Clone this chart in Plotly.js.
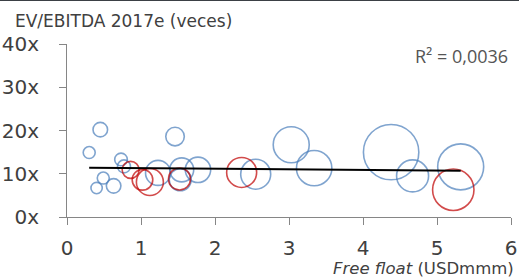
<!DOCTYPE html>
<html>
<head>
<meta charset="utf-8">
<script src="https://cdn.plot.ly/plotly-3.0.1.min.js"></script>
<style>
  html, body { margin: 0; padding: 0; background: #fff; }
  #chart { width: 519px; height: 277px; position: relative; }
  #topline { position: absolute; left: 0; top: 0; width: 519px; height: 1px; background: #3b4045; z-index: 10; }
</style>
</head>
<body>
<div id="chart"></div>
<div id="topline"></div>
<script>
// Blue bubbles: free float (USD bn), EV/EBITDA 2017e, bubble size value
const blueX = [0.45, 0.30, 1.46, 0.73, 0.77, 0.49, 0.40, 0.63, 1.23, 1.55, 1.53, 1.77, 2.55, 3.03, 3.34, 4.38, 4.67, 5.32];
const blueY = [20.2, 14.9, 18.6, 13.3, 11.7, 9.0, 6.7, 7.2, 10.2, 10.9, 8.6, 10.9, 9.9, 16.7, 11.3, 15.0, 9.5, 11.6];
const blueSize = [5.3, 3.6, 8.6, 4.0, 4.2, 3.6, 3.2, 5.3, 15.6, 14.4, 12.1, 16.1, 22.5, 32.4, 31.3, 76.7, 25.6, 52.9];

// Red bubbles
const redX = [0.86, 1.02, 1.12, 1.52, 2.36, 5.22];
const redY = [10.9, 8.6, 8.1, 8.8, 10.3, 6.3];
const redSize = [7.2, 10.6, 18.2, 12.1, 22.5, 42.8];

// Linear trend line endpoints
const trendX = [0.30, 5.32];
const trendY = [11.4, 10.7];

const xTicks = [0, 1, 2, 3, 4, 5, 6];
const yTicks = [0, 10, 20, 30, 40];
const yTickText = ['0x', '10x', '20x', '30x', '40x'];

const titleText = 'EV/EBITDA 2017e (veces)';
const xTitleText = '<i>Free float</i> (USDmmm)';
const r2Text = 'R² = 0,0036';

const SIZEREF = 0.05;

const traces = [
  {
    x: blueX, y: blueY, type: 'scatter', mode: 'markers', hoverinfo: 'none',
    marker: { size: blueSize, sizemode: 'area', sizeref: SIZEREF, color: 'rgba(0,0,0,0)',
              line: { color: '#4a7ebb', width: 1.6 } }
  },
  {
    x: redX, y: redY, type: 'scatter', mode: 'markers', hoverinfo: 'none',
    marker: { size: redSize, sizemode: 'area', sizeref: SIZEREF, color: 'rgba(0,0,0,0)',
              line: { color: '#c00000', width: 1.6 } }
  },
  {
    x: trendX, y: trendY, type: 'scatter', mode: 'lines', hoverinfo: 'none',
    line: { color: '#000000', width: 2 }
  }
];

const tickFont = { family: 'DejaVu Sans', size: 20, color: '#404040' };

const layout = {
  width: 519, height: 277,
  margin: { l: 67, r: 8, t: 44, b: 60 },
  paper_bgcolor: '#ffffff', plot_bgcolor: '#ffffff',
  showlegend: false,
  title: {
    text: titleText, x: 15 / 519, xref: 'container', xanchor: 'left',
    y: 1 - 21 / 277, yref: 'container', yanchor: 'middle',
    font: { family: 'DejaVu Sans', size: 17, color: '#404040' }
  },
  xaxis: {
    range: [0, 6], tickvals: xTicks, ticktext: xTicks.map(String),
    showgrid: false, zeroline: false, showline: true, linecolor: '#868686', linewidth: 1,
    ticks: 'outside', ticklen: 7, tickcolor: '#868686', tickwidth: 1,
    tickfont: tickFont, ticklabelstandoff: 6, fixedrange: true
  },
  yaxis: {
    range: [0, 40], tickvals: yTicks, ticktext: yTickText,
    showgrid: false, zeroline: false, showline: true, linecolor: '#868686', linewidth: 1,
    ticks: 'outside', ticklen: 7, tickcolor: '#868686', tickwidth: 1,
    tickfont: tickFont, ticklabelstandoff: 16, fixedrange: true
  },
  annotations: [
    {
      text: r2Text, xref: 'paper', yref: 'paper', x: (510 - 67) / 444, y: (217 - 56) / 173,
      xanchor: 'right', yanchor: 'middle', showarrow: false,
      font: { family: 'Open Sans', size: 18, color: '#555555' }
    },
    {
      text: xTitleText, xref: 'paper', yref: 'paper', x: (516 - 67) / 444, y: (217 - 268) / 173,
      xanchor: 'right', yanchor: 'middle', showarrow: false,
      font: { family: 'DejaVu Sans', size: 16.5, color: '#404040' }
    }
  ]
};

Plotly.newPlot('chart', traces, layout, { displayModeBar: false, staticPlot: true });
</script>
</body>
</html>
